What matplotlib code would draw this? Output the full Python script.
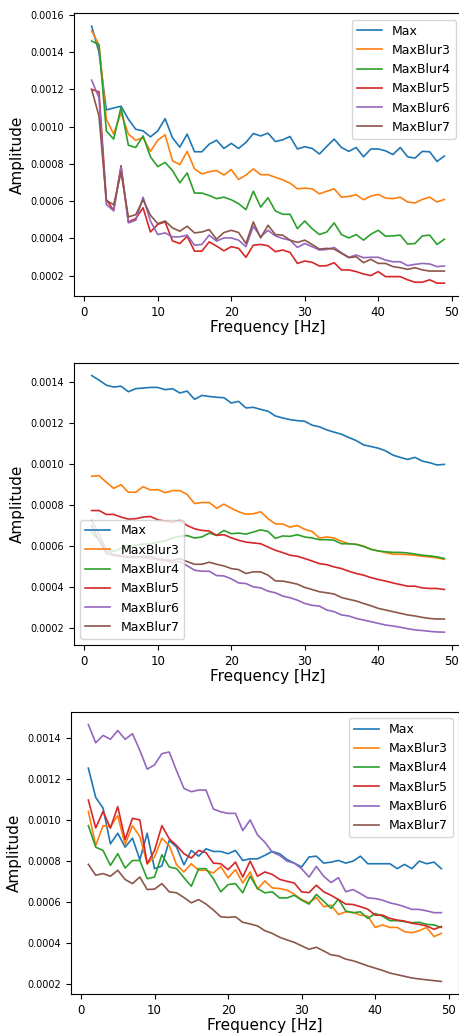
import numpy as np
import matplotlib
matplotlib.use("Agg")
import matplotlib.pyplot as plt

freq = np.arange(1, 50)
labels = ["Max", "MaxBlur3", "MaxBlur4", "MaxBlur5", "MaxBlur6", "MaxBlur7"]

# values in units of 1e-3
p1_max = [1.54, 1.40, 1.09, 1.10, 1.11, 1.04, 0.986, 0.977, 0.945, 0.977,
          1.043, 0.94, 0.89, 0.96, 0.865, 0.865, 0.906, 0.927, 0.883, 0.91,
          0.883, 0.915, 0.963, 0.95, 0.965, 0.92, 0.929, 0.947, 0.88, 0.892,
          0.883, 0.853, 0.894, 0.933, 0.888, 0.867, 0.888, 0.838, 0.88, 0.88,
          0.87, 0.85, 0.888, 0.838, 0.831, 0.867, 0.865, 0.813, 0.842]
p1_blur3 = [1.515, 1.44, 1.04, 0.96, 1.075, 0.96, 0.927, 0.94, 0.867, 0.927,
            0.956, 0.817, 0.796, 0.867, 0.773, 0.746, 0.758, 0.764, 0.74, 0.769,
            0.716, 0.74, 0.773, 0.742, 0.742, 0.728, 0.714, 0.696, 0.666, 0.669,
            0.666, 0.639, 0.653, 0.666, 0.621, 0.625, 0.634, 0.607, 0.627, 0.636,
            0.616, 0.613, 0.621, 0.595, 0.59, 0.609, 0.621, 0.595, 0.609]
p1_blur4 = [1.46, 1.44, 0.977, 0.933, 1.105, 0.90, 0.888, 0.95, 0.838, 0.785,
            0.808, 0.764, 0.698, 0.751, 0.643, 0.643, 0.63, 0.613, 0.621, 0.607,
            0.586, 0.554, 0.653, 0.568, 0.618, 0.547, 0.529, 0.529, 0.452, 0.493,
            0.452, 0.42, 0.434, 0.483, 0.42, 0.402, 0.42, 0.39, 0.422, 0.443,
            0.411, 0.413, 0.417, 0.369, 0.372, 0.413, 0.417, 0.367, 0.395]
p1_blur5 = [1.20, 1.187, 0.607, 0.55, 0.79, 0.488, 0.506, 0.564, 0.434, 0.475,
            0.488, 0.386, 0.372, 0.411, 0.331, 0.331, 0.381, 0.358, 0.333, 0.355,
            0.346, 0.298, 0.363, 0.367, 0.36, 0.328, 0.337, 0.324, 0.265, 0.278,
            0.271, 0.251, 0.253, 0.269, 0.23, 0.23, 0.221, 0.208, 0.2, 0.221,
            0.194, 0.194, 0.194, 0.177, 0.164, 0.164, 0.177, 0.159, 0.159]
p1_blur6 = [1.25, 1.155, 0.582, 0.547, 0.782, 0.483, 0.497, 0.621, 0.493, 0.42,
            0.429, 0.408, 0.408, 0.417, 0.363, 0.367, 0.417, 0.385, 0.402, 0.402,
            0.39, 0.355, 0.465, 0.408, 0.443, 0.413, 0.399, 0.39, 0.351, 0.372,
            0.355, 0.337, 0.34, 0.351, 0.322, 0.298, 0.31, 0.296, 0.298, 0.298,
            0.283, 0.274, 0.274, 0.253, 0.26, 0.265, 0.262, 0.248, 0.251]
p1_blur7 = [1.20, 1.057, 0.604, 0.58, 0.755, 0.515, 0.527, 0.607, 0.524, 0.479,
            0.493, 0.456, 0.438, 0.465, 0.429, 0.434, 0.447, 0.395, 0.431, 0.443,
            0.431, 0.372, 0.488, 0.402, 0.47, 0.42, 0.417, 0.39, 0.378, 0.39,
            0.367, 0.342, 0.346, 0.342, 0.319, 0.296, 0.301, 0.269, 0.287, 0.265,
            0.265, 0.248, 0.242, 0.233, 0.242, 0.23, 0.224, 0.224, 0.224]

p2_max = [1.432, 1.41, 1.385, 1.376, 1.38, 1.353, 1.368, 1.371, 1.374, 1.374,
          1.363, 1.368, 1.347, 1.356, 1.316, 1.335, 1.33, 1.326, 1.324, 1.298,
          1.306, 1.274, 1.277, 1.267, 1.258, 1.235, 1.225, 1.217, 1.212, 1.209,
          1.19, 1.182, 1.167, 1.156, 1.146, 1.13, 1.115, 1.094, 1.086, 1.078,
          1.065, 1.044, 1.033, 1.023, 1.033, 1.015, 1.007, 0.996, 0.999]
p2_blur3 = [0.941, 0.944, 0.912, 0.882, 0.90, 0.863, 0.863, 0.89, 0.874, 0.876,
            0.861, 0.871, 0.871, 0.852, 0.808, 0.813, 0.813, 0.785, 0.805, 0.785,
            0.768, 0.756, 0.758, 0.768, 0.734, 0.709, 0.708, 0.693, 0.701, 0.682,
            0.672, 0.64, 0.645, 0.64, 0.624, 0.612, 0.609, 0.601, 0.585, 0.577,
            0.569, 0.561, 0.561, 0.559, 0.556, 0.551, 0.548, 0.543, 0.536]
p2_blur4 = [0.668, 0.63, 0.585, 0.575, 0.59, 0.60, 0.605, 0.61, 0.61, 0.62,
            0.625, 0.64, 0.648, 0.652, 0.64, 0.645, 0.664, 0.653, 0.677, 0.661,
            0.664, 0.659, 0.669, 0.68, 0.672, 0.638, 0.65, 0.648, 0.656, 0.645,
            0.64, 0.632, 0.632, 0.629, 0.612, 0.612, 0.609, 0.599, 0.585, 0.577,
            0.573, 0.57, 0.57, 0.567, 0.562, 0.556, 0.553, 0.548, 0.54]
p2_blur5 = [0.774, 0.774, 0.755, 0.755, 0.742, 0.732, 0.734, 0.742, 0.745, 0.729,
            0.722, 0.717, 0.726, 0.701, 0.685, 0.677, 0.674, 0.653, 0.656, 0.641,
            0.629, 0.62, 0.616, 0.612, 0.596, 0.58, 0.569, 0.556, 0.551, 0.54,
            0.528, 0.515, 0.51, 0.499, 0.491, 0.478, 0.467, 0.459, 0.447, 0.438,
            0.43, 0.421, 0.413, 0.405, 0.405, 0.397, 0.394, 0.394, 0.389]
p2_blur6 = [0.725, 0.66, 0.58, 0.56, 0.555, 0.55, 0.548, 0.545, 0.54, 0.535,
            0.53, 0.52, 0.525, 0.505, 0.483, 0.478, 0.478, 0.457, 0.455, 0.441,
            0.421, 0.418, 0.402, 0.397, 0.381, 0.373, 0.357, 0.349, 0.337, 0.321,
            0.312, 0.308, 0.289, 0.281, 0.265, 0.26, 0.248, 0.24, 0.232, 0.224,
            0.216, 0.211, 0.205, 0.198, 0.192, 0.189, 0.185, 0.182, 0.181]
p2_blur7 = [0.70, 0.63, 0.565, 0.555, 0.55, 0.545, 0.545, 0.55, 0.55, 0.54,
            0.535, 0.53, 0.54, 0.525, 0.512, 0.512, 0.522, 0.512, 0.504, 0.491,
            0.486, 0.467, 0.475, 0.475, 0.459, 0.431, 0.43, 0.423, 0.415, 0.399,
            0.389, 0.378, 0.373, 0.367, 0.35, 0.341, 0.333, 0.321, 0.31, 0.297,
            0.289, 0.281, 0.273, 0.265, 0.26, 0.253, 0.248, 0.245, 0.245]

p3_max = [1.253, 1.11, 1.058, 0.883, 0.935, 0.867, 0.911, 0.806, 0.935, 0.762,
          0.775, 0.90, 0.867, 0.781, 0.851, 0.823, 0.859, 0.846, 0.846, 0.835,
          0.851, 0.802, 0.81, 0.81, 0.827, 0.846, 0.835, 0.807, 0.789, 0.77,
          0.819, 0.823, 0.789, 0.794, 0.802, 0.789, 0.799, 0.823, 0.786, 0.786,
          0.786, 0.786, 0.762, 0.783, 0.762, 0.799, 0.786, 0.794, 0.762]
p3_blur3 = [1.042, 0.875, 0.972, 0.968, 1.021, 0.88, 0.972, 0.919, 0.786, 0.819,
            0.911, 0.875, 0.781, 0.746, 0.786, 0.754, 0.754, 0.741, 0.773, 0.717,
            0.757, 0.692, 0.746, 0.662, 0.702, 0.668, 0.665, 0.657, 0.637, 0.611,
            0.595, 0.621, 0.576, 0.584, 0.538, 0.551, 0.548, 0.535, 0.53, 0.475,
            0.487, 0.475, 0.475, 0.454, 0.449, 0.459, 0.475, 0.43, 0.446]
p3_blur4 = [0.972, 0.867, 0.851, 0.778, 0.835, 0.765, 0.802, 0.802, 0.713, 0.721,
            0.83, 0.77, 0.762, 0.718, 0.676, 0.762, 0.762, 0.713, 0.649, 0.684,
            0.689, 0.644, 0.725, 0.665, 0.644, 0.649, 0.619, 0.619, 0.632, 0.608,
            0.589, 0.636, 0.603, 0.568, 0.613, 0.555, 0.547, 0.551, 0.519, 0.543,
            0.53, 0.508, 0.508, 0.503, 0.498, 0.50, 0.49, 0.487, 0.475]
p3_blur5 = [1.097, 0.961, 1.042, 0.96, 1.065, 0.904, 1.008, 1.0, 0.786, 0.851,
            0.972, 0.908, 0.875, 0.835, 0.814, 0.851, 0.84, 0.789, 0.786, 0.757,
            0.794, 0.721, 0.799, 0.725, 0.746, 0.734, 0.71, 0.70, 0.692, 0.649,
            0.645, 0.681, 0.649, 0.632, 0.611, 0.589, 0.587, 0.576, 0.564, 0.535,
            0.535, 0.519, 0.511, 0.506, 0.495, 0.49, 0.482, 0.466, 0.479]
p3_blur6 = [1.466, 1.377, 1.413, 1.394, 1.437, 1.394, 1.421, 1.34, 1.248, 1.269,
            1.324, 1.332, 1.24, 1.154, 1.138, 1.146, 1.146, 1.053, 1.04, 1.032,
            1.032, 0.948, 1.0, 0.927, 0.891, 0.843, 0.827, 0.799, 0.789, 0.762,
            0.721, 0.773, 0.725, 0.694, 0.718, 0.649, 0.66, 0.64, 0.619, 0.616,
            0.608, 0.595, 0.587, 0.576, 0.563, 0.563, 0.556, 0.547, 0.547]
p3_blur7 = [0.783, 0.73, 0.738, 0.725, 0.754, 0.709, 0.689, 0.721, 0.66, 0.662,
            0.689, 0.649, 0.644, 0.621, 0.595, 0.611, 0.589, 0.56, 0.527, 0.524,
            0.527, 0.50, 0.492, 0.482, 0.459, 0.446, 0.427, 0.414, 0.402, 0.385,
            0.368, 0.378, 0.36, 0.341, 0.336, 0.32, 0.312, 0.30, 0.287, 0.276,
            0.265, 0.252, 0.244, 0.236, 0.228, 0.223, 0.219, 0.215, 0.211]

panels = [
    [p1_max, p1_blur3, p1_blur4, p1_blur5, p1_blur6, p1_blur7],
    [p2_max, p2_blur3, p2_blur4, p2_blur5, p2_blur6, p2_blur7],
    [p3_max, p3_blur3, p3_blur4, p3_blur5, p3_blur6, p3_blur7],
]
legend_locs = ["upper right", "lower left", "upper right"]

W, H = 459, 1034
fig = plt.figure(figsize=(W / 100, H / 100), dpi=100)
# axes boxes in pixels: left, top, width, height (right side runs off the image)
boxes = [(74, 13.3, 388, 282.7), (74, 362.7, 388, 282.3), (70.7, 711.7, 388.3, 282.6)]

for series, loc, (l, t, w, h) in zip(panels, legend_locs, boxes):
    ax = fig.add_axes([l / W, (H - t - h) / H, w / W, h / H])
    for vals, lab in zip(series, labels):
        ax.plot(freq, np.array(vals) * 1e-3, lw=1.2, label=lab)
    ax.set_xlabel("Frequency [Hz]", fontsize=11, labelpad=1)
    ax.set_ylabel("Amplitude", fontsize=11)
    ax.tick_params(axis="x", labelsize=8.5)
    ax.tick_params(axis="y", labelsize=7)
    ax.legend(loc=loc, fontsize=9)

fig.savefig("out.png", dpi=100)
